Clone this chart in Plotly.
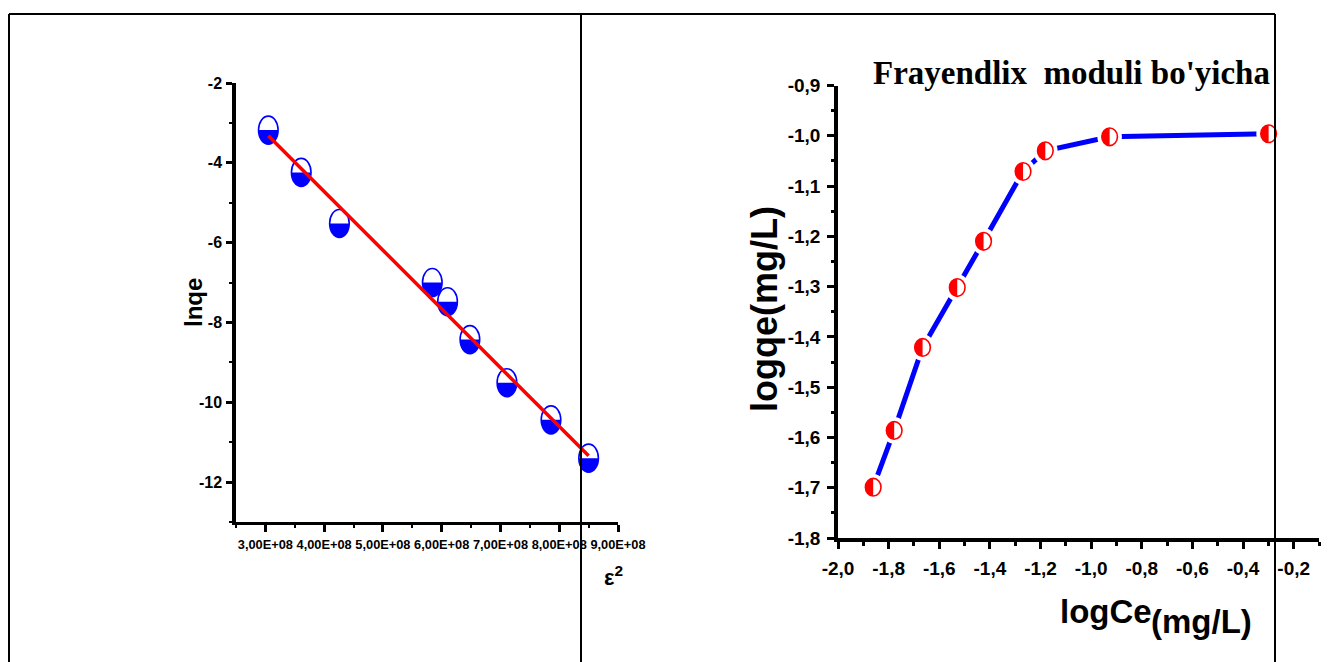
import numpy as np
import plotly.graph_objects as go

# Dubinin-Radushkevich plot: ln(qe) against epsilon^2
eps2 = [3.05e8, 3.61e8, 4.26e8, 5.84e8, 6.10e8, 6.48e8, 7.11e8, 7.86e8, 8.50e8]
lnqe = [-3.18, -4.24, -5.52, -7.00, -7.48, -8.43, -9.51, -10.44, -11.40]
eps_tick_vals = [3e8, 4e8, 5e8, 6e8, 7e8, 8e8, 9e8]
eps_tick_text = ["3,00E+08", "4,00E+08", "5,00E+08", "6,00E+08", "7,00E+08", "8,00E+08", "9,00E+08"]
lnqe_tick_vals = [-2, -4, -6, -8, -10, -12]
lnqe_tick_text = ["-2", "-4", "-6", "-8", "-10", "-12"]

# Freundlich plot: log qe against log Ce
log_ce = [-1.861, -1.778, -1.666, -1.529, -1.425, -1.269, -1.181, -0.927, -0.299]
log_qe = [-1.699, -1.586, -1.421, -1.302, -1.210, -1.071, -1.030, -1.002, -0.996]
ce_tick_vals = [-2.0, -1.8, -1.6, -1.4, -1.2, -1.0, -0.8, -0.6, -0.4, -0.2]
ce_tick_text = ["-2,0", "-1,8", "-1,6", "-1,4", "-1,2", "-1,0", "-0,8", "-0,6", "-0,4", "-0,2"]
qe_tick_vals = [-1.8, -1.7, -1.6, -1.5, -1.4, -1.3, -1.2, -1.1, -1.0, -0.9]
qe_tick_text = ["-1,8", "-1,7", "-1,6", "-1,5", "-1,4", "-1,3", "-1,2", "-1,1", "-1,0", "-0,9"]

W, H = 1329, 662
SANS = "Liberation Sans, Arial, sans-serif"
SERIF = "Liberation Serif, Times New Roman, serif"


def px_x(v):
    return v / W


def px_y(v):
    return 1 - v / H


def arc_path(a, b, t0, t1, n=28):
    t = np.linspace(t0, t1, n)
    pts = [f"{a * np.cos(k):.2f},{b * np.sin(k):.2f}" for k in t]
    return "M " + " L ".join(pts) + " Z"


def pixel_shape(xref, yref, xv, yv, **kw):
    return dict(xref=xref, yref=yref, xsizemode="pixel", ysizemode="pixel",
                xanchor=xv, yanchor=yv, **kw)


fig = go.Figure()

# linear fit through the D-R points
slope, intercept = np.polyfit(eps2, lnqe, 1)
fit_x = np.array([min(eps2), max(eps2)])
fig.add_trace(go.Scatter(x=eps2, y=lnqe, mode="markers", marker=dict(size=18, opacity=0),
                         xaxis="x", yaxis="y", hoverinfo="x+y", showlegend=False))
fig.add_trace(go.Scatter(x=fit_x, y=slope * fit_x + intercept, mode="lines",
                         line=dict(color="#ff0000", width=3.5),
                         xaxis="x", yaxis="y", hoverinfo="skip", showlegend=False))

# Freundlich curve
fig.add_trace(go.Scatter(x=log_ce, y=log_qe, mode="lines",
                         line=dict(color="#0000ff", width=5),
                         xaxis="x2", yaxis="y2", hoverinfo="x+y", showlegend=False))

shapes = []
# half-filled (lower half) ellipse markers, under the fit line
ax, by = 9.8, 14.0
for xv, yv in zip(eps2, lnqe):
    shapes.append(pixel_shape("x", "y", xv, yv, type="circle", x0=-ax, x1=ax, y0=-by, y1=by,
                              fillcolor="white", line=dict(width=0), layer="below"))
    shapes.append(pixel_shape("x", "y", xv, yv, type="path", path=arc_path(ax, by, np.pi, 2 * np.pi),
                              fillcolor="#0000ff", line=dict(width=0), layer="below"))
    shapes.append(pixel_shape("x", "y", xv, yv, type="circle", x0=-ax, x1=ax, y0=-by, y1=by,
                              fillcolor="rgba(0,0,0,0)", line=dict(color="#0000ff", width=1.6),
                              layer="below"))

# left-half-filled markers with a white gap around them on the curve
ar, br = 7.8, 8.8
gap = 4.5
for xv, yv in zip(log_ce, log_qe):
    shapes.append(pixel_shape("x2", "y2", xv, yv, type="circle", x0=-ar - gap, x1=ar + gap,
                              y0=-br - gap, y1=br + gap, fillcolor="white", line=dict(width=0)))
    shapes.append(pixel_shape("x2", "y2", xv, yv, type="path",
                              path=arc_path(ar, br, np.pi / 2, 3 * np.pi / 2),
                              fillcolor="#ff0000", line=dict(width=0)))
    shapes.append(pixel_shape("x2", "y2", xv, yv, type="circle", x0=-ar, x1=ar, y0=-br, y1=br,
                              fillcolor="rgba(0,0,0,0)", line=dict(color="#ff0000", width=1.6)))

# table frame around the two panels
frame = dict(color="black", width=2)
top, left, mid, right = 14, 9, 581, 1275
shapes.append(dict(type="line", xref="paper", yref="paper", x0=px_x(left), x1=px_x(right),
                   y0=px_y(top), y1=px_y(top), line=frame))
for xv in (left, mid, right):
    shapes.append(dict(type="line", xref="paper", yref="paper", x0=px_x(xv), x1=px_x(xv),
                       y0=px_y(top), y1=0, line=frame))

axis_common = dict(showline=True, linecolor="black", showgrid=False, zeroline=False,
                   ticks="outside", tickcolor="black", tickmode="array",
                   automargin=False, tickangle=0)

fig.update_layout(
    template="none",
    width=W, height=H, autosize=False,
    margin=dict(l=0, r=0, t=0, b=0, pad=0, autoexpand=False),
    paper_bgcolor="white", plot_bgcolor="white",
    showlegend=False,
    xaxis=dict(axis_common, domain=[px_x(236), px_x(618)], range=[2.5e8, 9e8],
               linewidth=3, tickwidth=3, ticklen=7,
               tickvals=eps_tick_vals, ticktext=eps_tick_text,
               tickfont=dict(family=SANS, size=12.8, color="black", weight="bold"),
               ticklabelstandoff=2,
               minor=dict(tickmode="linear", tick0=2.5e8, dtick=0.5e8, ticklen=3, tickwidth=2,
                          ticks="outside", tickcolor="black", showgrid=False),
               anchor="y"),
    yaxis=dict(axis_common, domain=[px_y(522), px_y(83)], range=[-13, -2],
               linewidth=3.5, tickwidth=3, ticklen=6,
               tickvals=lnqe_tick_vals, ticktext=lnqe_tick_text,
               tickfont=dict(family=SANS, size=16, color="black", weight="bold"),
               ticklabelstandoff=1,
               minor=dict(tickmode="linear", tick0=-13, dtick=1, ticklen=3, tickwidth=2,
                          ticks="outside", tickcolor="black", showgrid=False),
               anchor="x"),
    xaxis2=dict(axis_common, domain=[px_x(838), px_x(1319)], range=[-2.0, -0.1],
                linewidth=3.5, tickwidth=3, ticklen=7,
                tickvals=ce_tick_vals, ticktext=ce_tick_text,
                tickfont=dict(family=SANS, size=19, color="black", weight="bold"),
                ticklabelstandoff=3,
                minor=dict(tickmode="linear", tick0=-2.0, dtick=0.1, ticklen=4, tickwidth=3,
                           ticks="outside", tickcolor="black", showgrid=False),
                anchor="y2"),
    yaxis2=dict(axis_common, domain=[px_y(538), px_y(85.5)], range=[-1.8, -0.9],
                linewidth=3.5, tickwidth=3, ticklen=7,
                tickvals=qe_tick_vals, ticktext=qe_tick_text,
                tickfont=dict(family=SANS, size=19, color="black", weight="bold"),
                ticklabelstandoff=3,
                minor=dict(tickmode="linear", tick0=-1.8, dtick=0.05, ticklen=3, tickwidth=3,
                           ticks="outside", tickcolor="black", showgrid=False),
                anchor="x2"),
    shapes=shapes,
)

def label(text, x, y, size, family=SANS, angle=0, xanchor="center", yanchor="middle"):
    fig.add_annotation(text=text, x=px_x(x), y=px_y(y), xref="paper", yref="paper",
                       showarrow=False, textangle=angle, xanchor=xanchor, yanchor=yanchor,
                       font=dict(family=family, size=size, color="black", weight="bold"))

label("lnqe", 193, 303, 24, angle=-90)
label("ε<sup>2</sup>", 613, 576, 22)
label("logqe(mg/L)", 765, 309, 36, angle=-90)
label("logCe", 1058, 611, 33, xanchor="left")
label("(mg/L)", 1149, 621, 33, xanchor="left")
label("Frayendlix\u00a0 moduli bo'yicha", 871, 73, 33, family=SERIF, xanchor="left")

fig.write_html("out.html")
